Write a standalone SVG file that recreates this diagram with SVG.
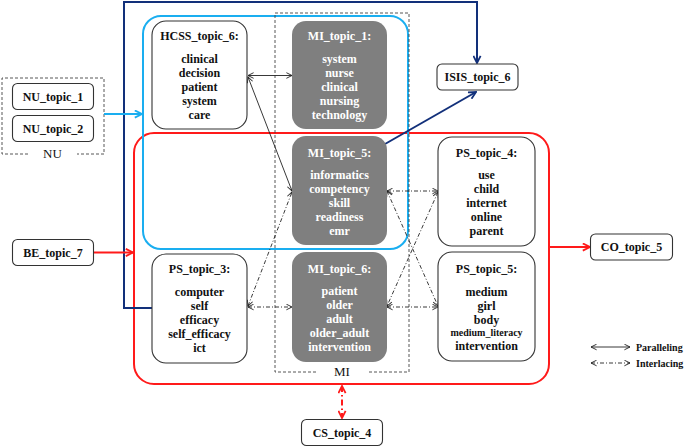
<svg xmlns="http://www.w3.org/2000/svg" width="685" height="447" viewBox="0 0 685 447">
<style>
text{font-family:"Liberation Serif","Times New Roman",serif;font-weight:bold;font-size:12px;text-anchor:middle;fill:#111}
.w text,text.w{fill:#fff}
.box{fill:#fff;stroke:#333;stroke-width:1.1}
.mi{fill:#7f7f7f;stroke:none}
.small{font-size:10px}
.lab{font-weight:normal;font-size:13px}
.leg{font-size:10px;text-anchor:start}
.dash{fill:none;stroke:#444;stroke-width:0.9;stroke-dasharray:3,2}
.par{fill:none;stroke:#222;stroke-width:0.9;marker-start:url(#ah);marker-end:url(#ah)}
.int{fill:none;stroke:#222;stroke-width:0.9;stroke-dasharray:4,2,1,2;marker-start:url(#ah);marker-end:url(#ah)}
</style>
<defs>
<marker id="ah" viewBox="0 0 10 10" refX="9" refY="5" markerWidth="7" markerHeight="7" orient="auto-start-reverse" markerUnits="userSpaceOnUse"><path d="M1,1 L9,5 L1,9" fill="none" stroke="#222" stroke-width="1.3"/></marker>
<marker id="ahNavy" viewBox="0 0 10 10" refX="9" refY="5" markerWidth="9" markerHeight="9" orient="auto" markerUnits="userSpaceOnUse"><path d="M1,1 L9,5 L1,9" fill="none" stroke="#12307a" stroke-width="2"/></marker>
<marker id="ahCyan" viewBox="0 0 10 10" refX="9" refY="5" markerWidth="9" markerHeight="9" orient="auto" markerUnits="userSpaceOnUse"><path d="M1,1 L9,5 L1,9" fill="none" stroke="#1aaef0" stroke-width="2"/></marker>
<marker id="ahRed" viewBox="0 0 10 10" refX="9" refY="5" markerWidth="9" markerHeight="9" orient="auto-start-reverse" markerUnits="userSpaceOnUse"><path d="M1,1 L9,5 L1,9" fill="none" stroke="#ff1a1a" stroke-width="2"/></marker>
</defs>

<g id="groups">
<rect x="134" y="133" width="415" height="251" rx="20" fill="none" stroke="#ff1a1a" stroke-width="2"/>
<rect x="143" y="16" width="265" height="233" rx="18" fill="none" stroke="#1aaef0" stroke-width="2"/>
<path class="dash" d="M316,372 L275,372 L275,13 L409,13 L409,372 L368,372"/>
<text class="lab" x="342" y="376">MI</text>
<path class="dash" d="M28,154 L2,154 L2,78 L104,78 L104,154 L77,154"/>
<text class="lab" x="52.5" y="158">NU</text>
</g>

<g id="connectors">
<path d="M152,308 L124,308 L124,2 L477,2 L477,63" fill="none" stroke="#12307a" stroke-width="2" marker-end="url(#ahNavy)"/>
<path d="M385,144 L476,92" fill="none" stroke="#12307a" stroke-width="2" marker-end="url(#ahNavy)"/>
<path d="M104,114 L142,114" fill="none" stroke="#1aaef0" stroke-width="2" marker-end="url(#ahCyan)"/>
<path d="M93,252.5 L133,252.5" fill="none" stroke="#ff1a1a" stroke-width="2" marker-end="url(#ahRed)"/>
<path d="M549,247 L590,247" fill="none" stroke="#ff1a1a" stroke-width="2" marker-end="url(#ahRed)"/>
<path d="M342,386 L342,418" fill="none" stroke="#ff1a1a" stroke-width="2" stroke-dasharray="6,3,1.5,3" marker-start="url(#ahRed)" marker-end="url(#ahRed)"/>
<path class="par" d="M248,75.5 L292,75.5"/>
<path class="par" d="M248,77 L292,191"/>
<path class="int" d="M248,306 L292,192"/>
<path class="int" d="M248,307 L292,307"/>
<path class="int" d="M387,191 L438,191"/>
<path class="int" d="M387,191 L438,306"/>
<path class="int" d="M438,192 L387,306"/>
<path class="int" d="M387,307 L438,307"/>
</g>

<g id="NU_topic_1"><rect class="box" x="12.5" y="83.5" width="81" height="26" rx="5"/><text x="53" y="100.5">NU_topic_1</text></g>
<g id="NU_topic_2"><rect class="box" x="12.5" y="115.5" width="81" height="26" rx="5"/><text x="53" y="132.5">NU_topic_2</text></g>
<g id="BE_topic_7"><rect class="box" x="12.5" y="239.5" width="81" height="26" rx="5"/><text x="53" y="256.5">BE_topic_7</text></g>
<g id="ISIS_topic_6"><rect class="box" x="437" y="64" width="81" height="26" rx="5"/><text x="477.5" y="81">ISIS_topic_6</text></g>
<g id="CO_topic_5"><rect class="box" x="590.5" y="234" width="82" height="26" rx="5"/><text x="631.5" y="251">CO_topic_5</text></g>
<g id="CS_topic_4"><rect class="box" x="301.5" y="419.5" width="81" height="26" rx="5"/><text x="342" y="436.5">CS_topic_4</text></g>

<g id="HCSS_topic_6"><rect class="box" x="152" y="21" width="95" height="108" rx="14"/>
<text x="199.5" y="40">HCSS_topic_6:</text>
<text x="199.5" y="63">clinical</text><text x="199.5" y="77">decision</text><text x="199.5" y="91">patient</text><text x="199.5" y="105">system</text><text x="199.5" y="119">care</text></g>

<g id="PS_topic_3"><rect class="box" x="152" y="254" width="95" height="109" rx="14"/>
<text x="199.5" y="273">PS_topic_3:</text>
<text x="199.5" y="296">computer</text><text x="199.5" y="310">self</text><text x="199.5" y="324">efficacy</text><text x="199.5" y="338">self_efficacy</text><text x="199.5" y="352">ict</text></g>

<g id="MI_topic_1" class="w"><rect class="mi" x="292" y="21" width="95" height="108" rx="14"/>
<text x="339.5" y="40">MI_topic_1:</text>
<text x="339.5" y="63">system</text><text x="339.5" y="77">nurse</text><text x="339.5" y="91">clinical</text><text x="339.5" y="105">nursing</text><text x="339.5" y="119">technology</text></g>

<g id="MI_topic_5" class="w"><rect class="mi" x="292" y="136" width="95" height="109" rx="14"/>
<text x="339.5" y="156.5">MI_topic_5:</text>
<text x="339.5" y="178.5">informatics</text><text x="339.5" y="192.5">competency</text><text x="339.5" y="206.5">skill</text><text x="339.5" y="220.5">readiness</text><text x="339.5" y="234.5">emr</text></g>

<g id="MI_topic_6" class="w"><rect class="mi" x="292" y="252" width="95" height="110" rx="14"/>
<text x="339.5" y="273">MI_topic_6:</text>
<text x="339.5" y="295">patient</text><text x="339.5" y="309">older</text><text x="339.5" y="323">adult</text><text x="339.5" y="337">older_adult</text><text x="339.5" y="351">intervention</text></g>

<g id="PS_topic_4"><rect class="box" x="438" y="137" width="97" height="109" rx="14"/>
<text x="486.5" y="156.5">PS_topic_4:</text>
<text x="486.5" y="178.5">use</text><text x="486.5" y="192.5">child</text><text x="486.5" y="206.5">internet</text><text x="486.5" y="220.5">online</text><text x="486.5" y="234.5">parent</text></g>

<g id="PS_topic_5"><rect class="box" x="438" y="252" width="97" height="109" rx="14"/>
<text x="486.5" y="273">PS_topic_5:</text>
<text x="486.5" y="295.5">medium</text><text x="486.5" y="309.5">girl</text><text x="486.5" y="323.5">body</text><text class="small" x="486.5" y="336">medium_literacy</text><text x="486.5" y="350">intervention</text></g>

<g id="legend">
<path class="par" d="M591,347 L630,347"/>
<text class="leg" x="636" y="350.5">Paralleling</text>
<path class="int" d="M591,363 L630,363"/>
<text class="leg" x="636" y="366.5">Interlacing</text>
</g>
</svg>
